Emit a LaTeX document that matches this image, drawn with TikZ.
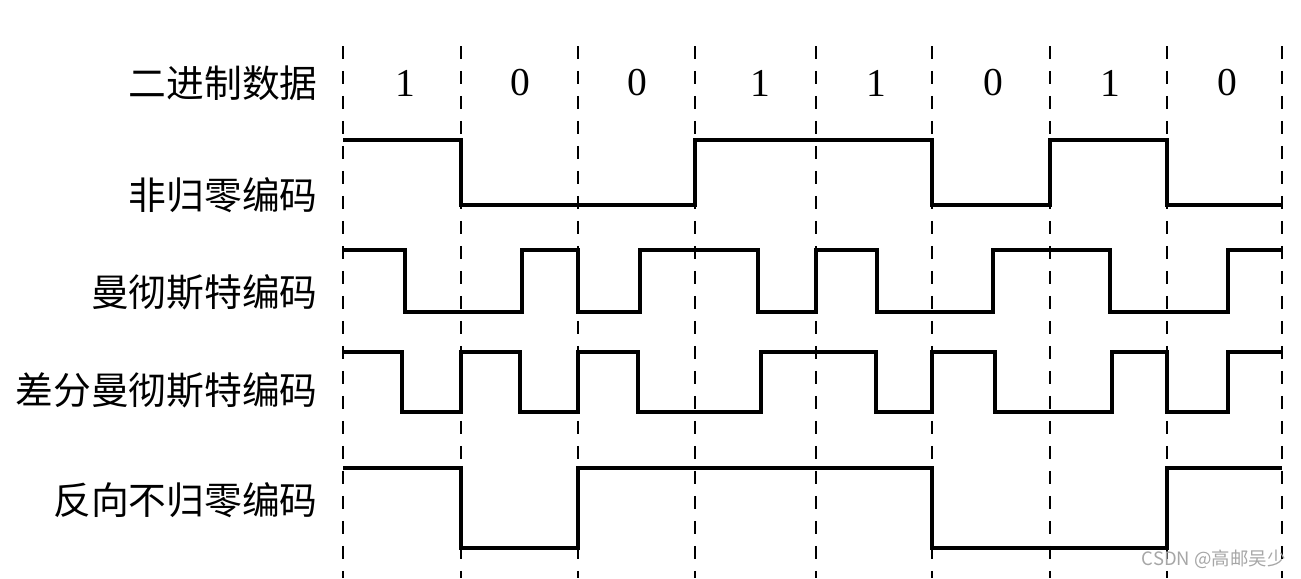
\documentclass[tikz,border=0pt]{standalone}
\usepackage{fontspec}
\setmainfont{Liberation Serif}
\newfontfamily\cjk{Noto Sans CJK SC}
\usepackage{tikz}
\tikzstyle{rowlabel} =
[anchor=east, inner sep=0pt, font=\cjk\fontsize{21.5}{24}\selectfont]
\tikzstyle{bit} =
[inner sep=0pt, font=\fontsize{22.5}{24}\selectfont]
\tikzstyle{clock} =
[draw, line width=1.6pt, dash pattern=on 0.26cm off 0.24cm]
\tikzstyle{signal} =
[draw, line width=2.7pt, line join=miter]
\tikzstyle{watermark} =
[anchor=east, inner sep=0pt, text=gray!70, font=\cjk\fontsize{10.5}{12}\selectfont]

\begin{document}
\begin{tikzpicture}[x=0.02cm, y=-0.02cm]
  \useasboundingbox (0,0) rectangle (1301,578);
  % clock lines
  \path [clock] (343,46) -- (343,578);
  \path [clock] (461,46) -- (461,578);
  \path [clock] (578,46) -- (578,578);
  \path [clock] (695,46) -- (695,578);
  \path [clock] (816,46) -- (816,578);
  \path [clock] (932,46) -- (932,578);
  \path [clock] (1050,46) -- (1050,578);
  \path [clock] (1167,46) -- (1167,578);
  \path [clock] (1282,46) -- (1282,578);
  %
  % row labels
  \node [rowlabel] (data) at (318,83) {二进制数据};
  \node [rowlabel] (nrz) at (318,195) {非归零编码};
  \node [rowlabel] (manch) at (318,292) {曼彻斯特编码};
  \node [rowlabel] (dmanch) at (318,390) {差分曼彻斯特编码};
  \node [rowlabel] (nrzi) at (318,500) {反向不归零编码};
  %
  % bits
  \node [bit] (b1) at (405,83) {1};
  \node [bit] (b2) at (520,83) {0};
  \node [bit] (b3) at (637,83) {0};
  \node [bit] (b4) at (760,83) {1};
  \node [bit] (b5) at (876,83) {1};
  \node [bit] (b6) at (993,83) {0};
  \node [bit] (b7) at (1110,83) {1};
  \node [bit] (b8) at (1227,83) {0};
  %
  % waveforms
  \path [signal] (343,140) -- (461,140) -- (461,205) -- (695,205)
   -- (695,140) -- (932,140) -- (932,205) -- (1050,205) -- (1050,140)
   -- (1167,140) -- (1167,205) -- (1282,205);
  \path [signal] (343,250) -- (405,250) -- (405,312) -- (522,312)
   -- (522,250) -- (578,250) -- (578,312) -- (640,312) -- (640,250)
   -- (758,250) -- (758,312) -- (816,312) -- (816,250) -- (877,250)
   -- (877,312) -- (993,312) -- (993,250) -- (1110,250) -- (1110,312)
   -- (1228,312) -- (1228,250) -- (1282,250);
  \path [signal] (343,352) -- (402,352) -- (402,412) -- (461,412)
   -- (461,352) -- (520,352) -- (520,412) -- (578,412) -- (578,352)
   -- (638,352) -- (638,412) -- (761,412) -- (761,352) -- (876,352)
   -- (876,412) -- (932,412) -- (932,352) -- (995,352) -- (995,412)
   -- (1112,412) -- (1112,352) -- (1167,352) -- (1167,412) -- (1228,412)
   -- (1228,352) -- (1282,352);
  \path [signal] (343,468) -- (461,468) -- (461,548) -- (578,548)
   -- (578,468) -- (932,468) -- (932,548) -- (1167,548) -- (1167,468)
   -- (1282,468);
  %
  \node [watermark] (csdn) at (1286,559) {CSDN @高邮吴少};
\end{tikzpicture}
\end{document}
